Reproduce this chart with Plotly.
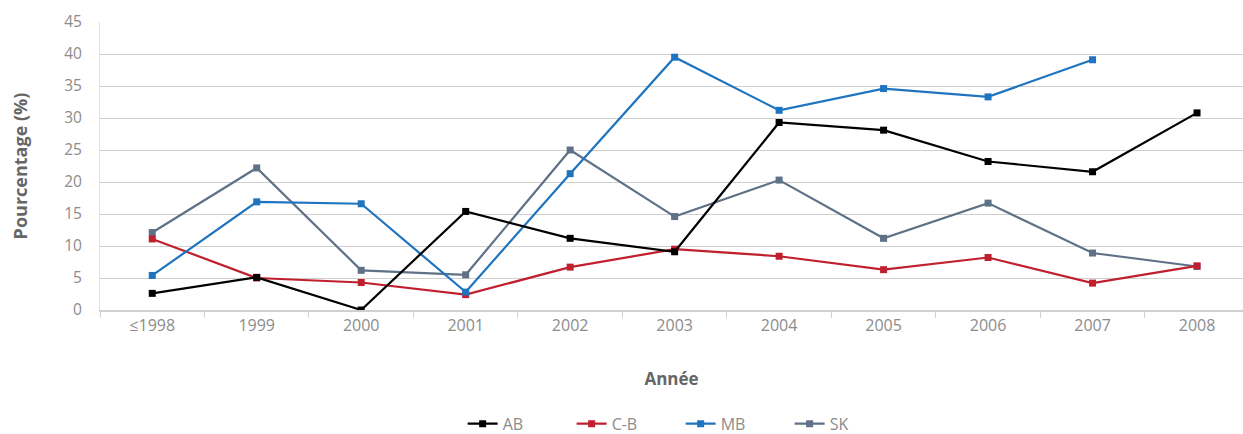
import plotly.graph_objects as go

categories = ["≤1998", "1999", "2000", "2001", "2002", "2003", "2004", "2005", "2006", "2007", "2008"]
ab = [2.6, 5.1, 0.0, 15.4, 11.2, 9.1, 29.3, 28.1, 23.2, 21.6, 30.8]
cb = [11.1, 5.0, 4.3, 2.4, 6.7, 9.5, 8.4, 6.3, 8.2, 4.2, 6.9]
mb = [5.4, 16.9, 16.6, 2.8, 21.3, 39.5, 31.2, 34.6, 33.3, 39.1, None]
sk = [12.1, 22.2, 6.2, 5.5, 25.0, 14.6, 20.3, 11.2, 16.7, 8.9, 6.8]

# (name, values, colour, legend rank); drawn in list order (SK at bottom, AB on top)
series = [("SK", sk, "#5F7186", 4), ("C-B", cb, "#C0202E", 2), ("MB", mb, "#1F74BF", 3), ("AB", ab, "#000000", 1)]

fig = go.Figure()
for name, vals, color, rank in series:
    fig.add_trace(go.Scatter(
        x=categories, y=vals, name=name, mode="lines+markers",
        line=dict(color=color, width=2.2),
        marker=dict(symbol="square", size=7, color=color),
        connectgaps=False, legendrank=rank,
    ))

fig.update_layout(
    width=1243, height=434,
    margin=dict(l=100, r=0, t=22, b=124, autoexpand=False),
    paper_bgcolor="white", plot_bgcolor="white",
    font=dict(family="Open Sans, Liberation Sans, sans-serif", color="#8c8c8c", size=15),
    showlegend=True,
    legend=dict(orientation="h", x=0.508, xanchor="center", y=-0.395, yanchor="middle",
                font=dict(size=16, color="#8c8c8c"), entrywidth=64, entrywidthmode="pixels",
                traceorder="normal"),
    xaxis=dict(
        type="category", range=[-0.5, 10.44], automargin=False,
        showgrid=False, showline=True, linecolor="#d0d0d0", linewidth=1.5,
        ticks="outside", tickson="boundaries", ticklen=6, tickcolor="#d0d0d0",
        tickfont=dict(size=16, color="#8c8c8c"),
        title=dict(text="<b>Année</b>", font=dict(size=17, color="#666666"), standoff=38),
        zeroline=False,
    ),
    yaxis=dict(
        range=[0, 45], dtick=5, showgrid=True, gridcolor="#d0d0d0", gridwidth=1,
        showline=True, linecolor="#e0e0e0", linewidth=1, automargin=False,
        zeroline=False, ticks="", ticklabelstandoff=14,
        tickfont=dict(size=15.5, color="#8c8c8c"),
        title=dict(text="<b>Pourcentage (%)</b>", font=dict(size=18, color="#666666"), standoff=31),
    ),
)

fig.write_html("out.html", config={"displayModeBar": False},
               post_script="document.body.style.margin='0';document.body.style.overflow='hidden';")
